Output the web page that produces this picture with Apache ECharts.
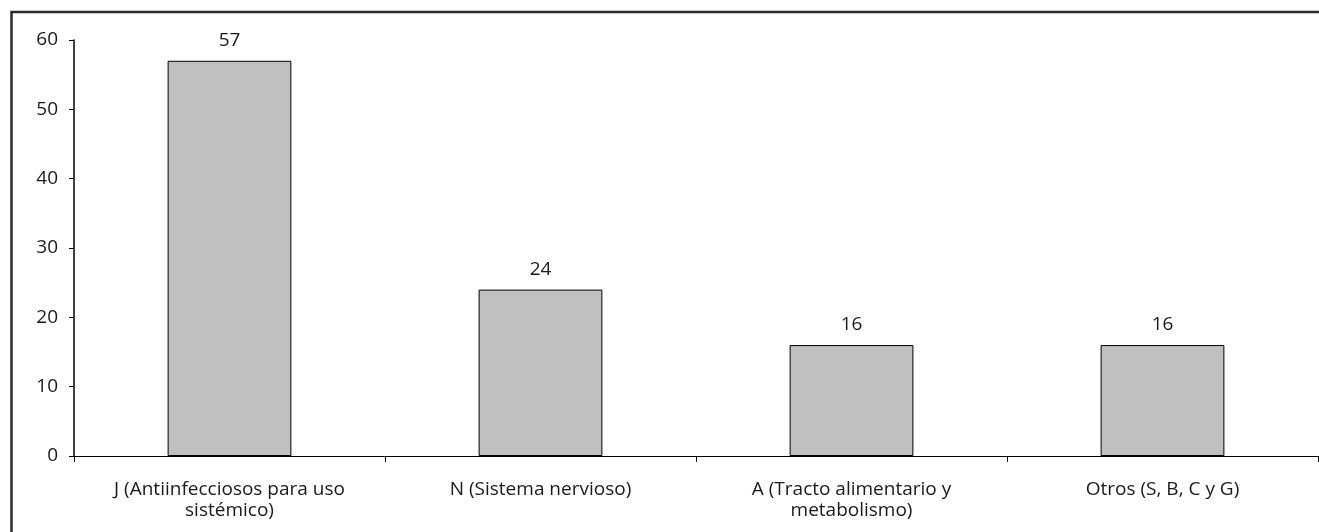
<!DOCTYPE html>
<html>
<head>
<meta charset="utf-8">
<script src="https://cdn.jsdelivr.net/npm/echarts@6/dist/echarts.min.js"></script>
<style>
  html, body { margin: 0; padding: 0; background: #fff; }
  #chart { width: 1319px; height: 532px; }
</style>
</head>
<body>
<div id="chart"></div>
<script>
// ATC groups and number of prescriptions per group
const categories = [
  'J (Antiinfecciosos para uso\nsistémico)',
  'N (Sistema nervioso)',
  'A (Tracto alimentario y\nmetabolismo)',
  'Otros (S, B, C y G)'
];
const values = [57, 24, 16, 16];
const yTicks = { min: 0, max: 60, interval: 10 };

const FONT = '"Open Sans", "Noto Sans", sans-serif';
const chart = echarts.init(document.getElementById('chart'), null, { renderer: 'canvas' });

chart.setOption({
  animation: false,
  backgroundColor: '#ffffff',
  textStyle: { fontFamily: FONT, color: '#1a1a1a' },
  graphic: [{
    type: 'rect',
    shape: { x: 11.5, y: 12, width: 1340, height: 560 },
    style: { fill: 'none', stroke: '#2b2b2b', lineWidth: 2.5 },
    silent: true,
    z: 100
  }],
  grid: { left: 74, right: 1, top: 40, bottom: 76, containLabel: false },
  xAxis: {
    type: 'category',
    data: categories,
    boundaryGap: true,
    axisLine: { show: true, lineStyle: { color: '#000', width: 1 } },
    axisTick: { show: true, length: 6, lineStyle: { color: '#000' } },
    axisLabel: {
      margin: 23,
      fontFamily: FONT,
      fontSize: 19,
      lineHeight: 21,
      color: '#1a1a1a',
      interval: 0,
      align: 'center'
    },
    splitLine: { show: false }
  },
  yAxis: {
    type: 'value',
    min: yTicks.min,
    max: yTicks.max,
    interval: yTicks.interval,
    axisLine: { show: true, lineStyle: { color: '#000', width: 1.5 } },
    axisTick: { show: true, length: 5, lineStyle: { color: '#000' } },
    axisLabel: { margin: 16, fontFamily: FONT, fontSize: 19, color: '#1a1a1a' },
    splitLine: { show: false }
  },
  series: [{
    type: 'bar',
    data: values,
    barWidth: '39.8%',
    itemStyle: { color: '#c0c0c0', borderColor: '#000', borderWidth: 1 },
    label: {
      show: true,
      position: 'top',
      distance: 11,
      fontFamily: FONT,
      fontSize: 19,
      color: '#1a1a1a'
    }
  }]
});
</script>
</body>
</html>
